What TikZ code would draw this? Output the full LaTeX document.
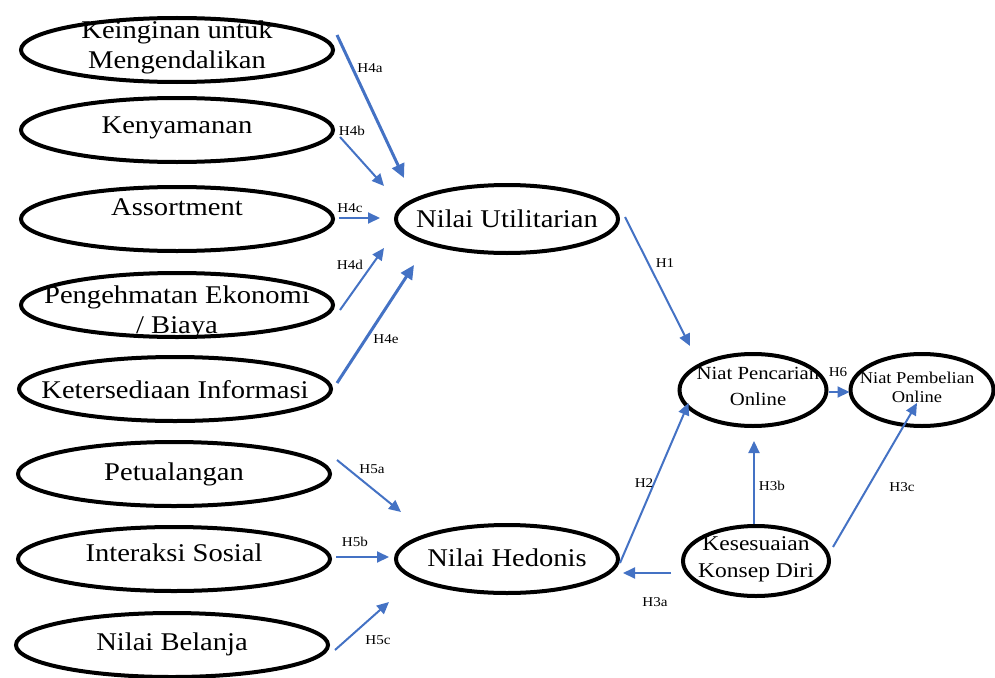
\documentclass[tikz,border=0pt]{standalone}
\usepackage{fontspec}
\setmainfont[FakeStretch=1.12]{Liberation Serif}
\usetikzlibrary{shapes.geometric,arrows.meta,calc}
\definecolor{arrblue}{HTML}{4472C4}
\begin{document}
\begin{tikzpicture}[x=1pt,y=-1pt,
  ell/.style={draw, ellipse, line width=4pt, inner sep=0pt},
  lell/.style={ell, minimum width=312pt, minimum height=64pt},
  midell/.style={ell, minimum width=222pt, minimum height=68pt},
  txt/.style={font=\fontsize{25.5}{30}\selectfont, align=center, inner sep=0pt},
  stxt/.style={font=\fontsize{18.5}{26}\selectfont, align=center, inner sep=0pt},
  lbl/.style={font=\fontsize{13.5}{15}\selectfont, inner sep=0pt},
  arr/.style={draw=arrblue, line width=2pt, -{Triangle[length=12pt,width=11pt]}},
  tarr/.style={draw=arrblue, line width=3pt, -{Triangle[length=14pt,width=13pt]}}]
\useasboundingbox (0,0) rectangle (995,677);

% left column
\node[lell, label={[txt,yshift=3pt]center:{Keinginan untuk\\Mengendalikan}}] (kein) at (177,50) {};
\node[lell, label={[txt,yshift=2pt]center:{Kenyamanan}}] (keny) at (177,130) {};
\node[lell, label={[txt,yshift=12pt]center:{Assortment}}] (asso) at (177,219) {};
\node[lell, label={[txt,yshift=-7pt]center:{Pengehmatan Ekonomi\\/ Biaya}}] (peng) at (177,305) {};
\node[lell, label={[txt,yshift=-1pt]center:{Ketersediaan Informasi}}] (kete) at (175,389) {};
\node[lell, label={[txt,yshift=0pt]center:{Petualangan}}] (petu) at (174,474) {};
\node[lell, label={[txt,yshift=6pt]center:{Interaksi Sosial}}] (inte) at (174,559) {};
\node[lell, label={[txt,yshift=1pt]center:{Nilai Belanja}}] (bela) at (172,645) {};

% middle
\node[midell, label={[txt]center:{Nilai Utilitarian}}] (util) at (507,219) {};
\node[midell, label={[txt,yshift=1pt]center:{Nilai Hedonis}}] (hedo) at (507,559) {};

% right
\node[ell, minimum width=147pt, minimum height=72pt,
  label={[stxt,xshift=5pt,yshift=4pt]center:{Niat Pencarian\\Online}}] (penc) at (753,390) {};
\node[ell, minimum width=143pt, minimum height=72pt,
  label={[stxt,font=\fontsize{16.5}{19}\selectfont,xshift=-5pt,yshift=3pt]center:{Niat Pembelian\\Online}}] (pemb) at (922,390) {};
\node[ell, minimum width=146pt, minimum height=70pt,
  label={[stxt,font=\fontsize{21}{27}\selectfont,yshift=2pt]center:{Kesesuaian\\Konsep Diri}}] (kese) at (756,561) {};

% connectors to Nilai Utilitarian
\draw[tarr] ($(kein.east)+(2,-15)$) -- ($(util.west)+(10,-41)$);
\draw[arr] ($(keny.east)+(5,7)$) -- ($(util.west)+(-10,-33)$);
\draw[arr] ($(asso.east)+(4,-1)$) -- ($(util.west)+(-14,-1)$);
\draw[arr] ($(peng.east)+(5,5)$) -- ($(util.west)+(-10,29)$);
\draw[tarr] ($(kete.east)+(4,-6)$) -- ($(util.west)+(20,46)$);

% connectors to Nilai Hedonis
\draw[arr] ($(petu.east)+(5,-14)$) -- ($(hedo.west)+(7,-47)$);
\draw[arr] ($(inte.east)+(4,-2)$) -- ($(hedo.west)+(-5,-2)$);
\draw[arr] ($(bela.east)+(5,5)$) -- ($(hedo.west)+(-5,43)$);

% right part
\draw[arr] ($(util.east)+(5,-2)$) -- ($(penc.north)+(-63,-6)$);
\draw[arr] ($(hedo.east)+(0,4)$) -- ($(penc.west)+(11,13)$);
\draw[arr] ($(kese.west)+(-10,12)$) -- ($(hedo.east)+(3,14)$);
\draw[arr] ($(kese.north)+(-2,0)$) -- ($(penc.south)+(1,13)$);
\draw[arr] ($(kese.east)+(2,-14)$) -- ($(pemb.south)+(-5,-25)$);
\draw[arr] ($(penc.east)+(0,2)$) -- ($(pemb.west)+(1,2)$);

% labels
\node[lbl] at (370,68) {H4a};
\node[lbl] at (352,131) {H4b};
\node[lbl] at (350,208) {H4c};
\node[lbl] at (350,265) {H4d};
\node[lbl] at (386,339) {H4e};
\node[lbl] at (665,263) {H1};
\node[lbl] at (372,469) {H5a};
\node[lbl] at (355,542) {H5b};
\node[lbl] at (378,640) {H5c};
\node[lbl] at (644,483) {H2};
\node[lbl] at (655,602) {H3a};
\node[lbl] at (772,486) {H3b};
\node[lbl] at (902,487) {H3c};
\node[lbl] at (838,372) {H6};
\end{tikzpicture}
\end{document}
